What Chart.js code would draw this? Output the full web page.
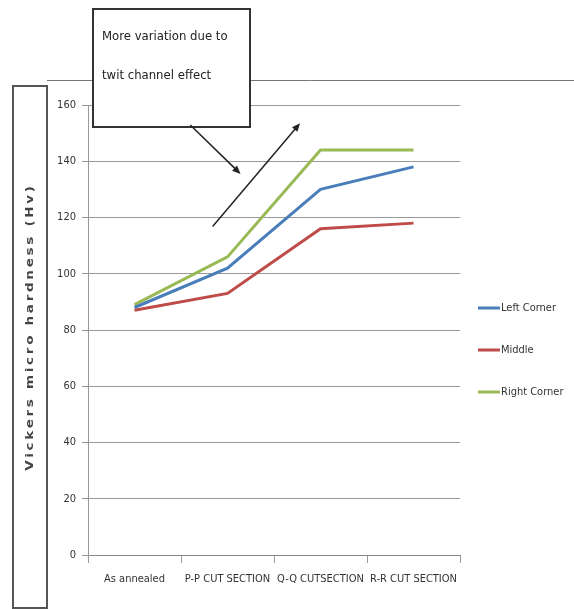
<!DOCTYPE html>
<html>
<head>
<meta charset="utf-8">
<script src="https://cdn.jsdelivr.net/npm/chart.js@4/dist/chart.umd.min.js"></script>
<style>
  html, body { margin: 0; padding: 0; background: #fff; }
  #wrap { width: 574px; height: 609px; }
</style>
</head>
<body>
<div id="wrap"><canvas id="c" width="574" height="609"></canvas></div>
<script>
// Donnees
const categories = ['As annealed', 'P-P CUT SECTION', 'Q-Q CUTSECTION', 'R-R CUT SECTION'];
const leftCorner = [88, 102, 130, 138];
const middle = [87, 93, 116, 118];
const rightCorner = [89, 106, 144, 144];
const yTicks = [0, 20, 40, 60, 80, 100, 120, 140, 160];

const FONT = '"Liberation Sans Narrow", "DejaVu Sans Condensed", "Liberation Sans", sans-serif';

// Fleche avec pointe pleine
function arrow(ctx, x1, y1, x2, y2) {
    const a = Math.atan2(y2 - y1, x2 - x1);
    const h = 9;
    ctx.beginPath();
    ctx.moveTo(x1, y1);
    ctx.lineTo(x2 - Math.cos(a) * h * 0.8, y2 - Math.sin(a) * h * 0.8);
    ctx.stroke();
    ctx.beginPath();
    ctx.moveTo(x2, y2);
    ctx.lineTo(x2 - h * Math.cos(a - 0.4), y2 - h * Math.sin(a - 0.4));
    ctx.lineTo(x2 - h * Math.cos(a + 0.4), y2 - h * Math.sin(a + 0.4));
    ctx.closePath();
    ctx.fill();
}

// Cadres, titre de l'axe Y, legende et annotation
const decor = {
    id: 'decor',
    beforeDraw(chart) {
        const ctx = chart.ctx;
        ctx.save();
        ctx.strokeStyle = '#777';
        ctx.lineWidth = 1;
        ctx.beginPath();
        ctx.moveTo(47, 80.5);
        ctx.lineTo(574, 80.5);
        ctx.stroke();
        ctx.strokeStyle = '#555';
        ctx.lineWidth = 2;
        ctx.strokeRect(13, 86, 34, 522);
        ctx.restore();
    },
    afterDraw(chart) {
        const ctx = chart.ctx;
        const xs = chart.scales.x, ys = chart.scales.y;
        ctx.save();

        // titre de l'axe Y (police elargie comme sur l'image)
        ctx.translate(30, 327);
        ctx.rotate(-Math.PI / 2);
        ctx.scale(1.35, 1);
        ctx.font = 'bold 10px "DejaVu Sans", sans-serif';
        ctx.letterSpacing = '2px';
        ctx.fillStyle = '#444';
        ctx.textAlign = 'center';
        ctx.textBaseline = 'middle';
        ctx.fillText('Vickers micro hardness (Hv)', 0, 0);
        ctx.restore();

        // legende
        ctx.save();
        ctx.font = '11px ' + FONT;
        ctx.textBaseline = 'middle';
        chart.data.datasets.forEach((ds, i) => {
            const y = 308 + i * 42;
            ctx.strokeStyle = ds.borderColor;
            ctx.lineWidth = 3;
            ctx.beginPath();
            ctx.moveTo(478, y);
            ctx.lineTo(500, y);
            ctx.stroke();
            ctx.fillStyle = '#333';
            ctx.fillText(ds.label, 501, y);
        });
        ctx.restore();

        // boite d'annotation
        ctx.save();
        ctx.fillStyle = '#fff';
        ctx.fillRect(93, 9, 157, 118);
        ctx.strokeStyle = '#333';
        ctx.lineWidth = 2;
        ctx.strokeRect(93, 9, 157, 118);
        ctx.fillStyle = '#222';
        ctx.font = '13px ' + FONT;
        ctx.textBaseline = 'middle';
        ctx.fillText('More variation due to', 102, 37);
        ctx.fillText('twit channel effect', 102, 76);

        ctx.strokeStyle = '#222';
        ctx.fillStyle = '#222';
        ctx.lineWidth = 1.5;
        arrow(ctx, xs.getPixelForValue(0.6), ys.getPixelForValue(152.9),
                   xs.getPixelForValue(1.14), ys.getPixelForValue(135.5));
        arrow(ctx, xs.getPixelForValue(0.84), ys.getPixelForValue(116.8),
                   xs.getPixelForValue(1.78), ys.getPixelForValue(153.5));
        ctx.restore();
    }
};

function makeDataset(label, data, color) {
    return {
        label: label,
        data: data,
        borderColor: color,
        backgroundColor: color,
        borderWidth: 3,
        pointRadius: 0,
        tension: 0
    };
}

new Chart(document.getElementById('c'), {
    type: 'line',
    data: {
        labels: categories,
        datasets: [
            makeDataset('Left Corner', leftCorner, '#4a7ebb'),
            makeDataset('Middle', middle, '#be4b48'),
            makeDataset('Right Corner', rightCorner, '#98b954')
        ]
    },
    options: {
        responsive: false,
        animation: false,
        devicePixelRatio: 1,
        layout: { padding: { left: 50, top: 105, right: 114, bottom: 14 } },
        plugins: {
            legend: { display: false },
            tooltip: { enabled: false }
        },
        scales: {
            x: {
                offset: true,
                afterFit: (s) => { s.height = 40; },
                grid: {
                    offset: true,
                    drawOnChartArea: false,
                    tickLength: 8,
                    color: '#999'
                },
                border: { color: '#888', width: 1 },
                ticks: {
                    padding: 10,
                    maxRotation: 0,
                    autoSkip: false,
                    color: '#333',
                    font: { family: FONT, size: 11 }
                }
            },
            y: {
                min: 0,
                max: 160,
                afterFit: (s) => { s.width = 38; },
                afterBuildTicks: (s) => { s.ticks = yTicks.map(v => ({ value: v })); },
                grid: { color: '#999', tickLength: 6 },
                border: { color: '#999', width: 1 },
                ticks: {
                    padding: 6,
                    color: '#333',
                    font: { family: FONT, size: 11 }
                }
            }
        }
    },
    plugins: [decor]
});
</script>
</body>
</html>
